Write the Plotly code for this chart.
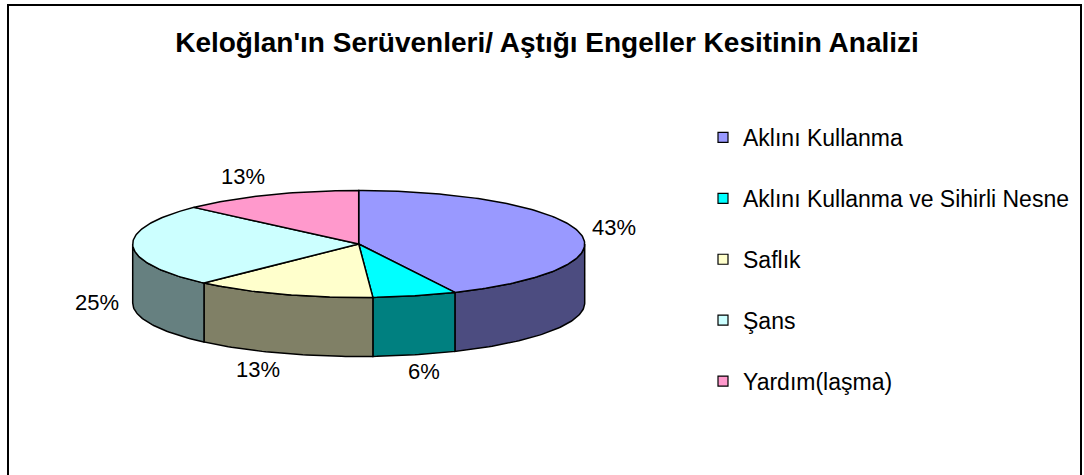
import numpy as np
import plotly.graph_objects as go

# ---- data ----
categories = ["Aklını Kullanma", "Aklını Kullanma ve Sihirli Nesne", "Saflık", "Şans", "Yardım(laşma)"]
values = [43, 6, 13, 25, 13]
top_colors = ["#9999FF", "#00FFFF", "#FFFFCC", "#CCFFFF", "#FF99CC"]
side_colors = ["#4C4C80", "#008080", "#808066", "#668080", "#804C66"]
title_text = "Keloğlan'ın Serüvenleri/ Aştığı Engeller Kesitinin Analizi"

# ---- layout constants (pixel space) ----
W, H = 1084, 475
cx, cy = 358.7, 244.0
rx, ry = 226.0, 53.5
depth = 59.0
FONT = "Arial, Liberation Sans, sans-serif"


def pt(phi_deg, dy=0.0):
    p = np.radians(phi_deg)
    return cx + rx * np.sin(p), cy - ry * np.cos(p) + dy


def arc(a, b, dy=0.0):
    n = max(2, int(abs(b - a) / 1.0) + 2)
    ph = np.linspace(a, b, n)
    x, y = pt(ph, dy)
    return list(x), list(y)


fig = go.Figure()

total = float(sum(values))
angles = np.concatenate([[0.0], np.cumsum(values) / total * 360.0])

# sides (front half only: 90..270 degrees clockwise from top)
for i in range(len(values)):
    a, b = angles[i], angles[i + 1]
    s, e = max(a, 90.0), min(b, 270.0)
    if e <= s:
        continue
    tx, ty = arc(s, e)
    bx, by = arc(e, s, depth)
    fig.add_trace(go.Scatter(
        x=tx + bx + [tx[0]], y=ty + by + [ty[0]],
        mode="lines", fill="toself", fillcolor=side_colors[i],
        line=dict(color="black", width=1.5), showlegend=False, hoverinfo="skip"))

# tops
for i in range(len(values)):
    a, b = angles[i], angles[i + 1]
    ax_, ay_ = arc(a, b)
    fig.add_trace(go.Scatter(
        x=[cx] + ax_ + [cx], y=[cy] + ay_ + [cy],
        mode="lines", fill="toself", fillcolor=top_colors[i],
        line=dict(color="black", width=1.5), showlegend=False, hoverinfo="skip"))

# labels
for i in range(len(values)):
    mid = np.radians((angles[i] + angles[i + 1]) / 2)
    sn, cs = np.sin(mid), np.cos(mid)
    lx = cx + (rx + 36) * sn + (-12 if -0.9 < sn < -0.2 else 0)
    ly = cy - (ry + 20) * cs + (depth - 3 if cs < 0 else 0)
    fig.add_annotation(x=lx, y=ly, text=f"{round(values[i] / total * 100)}%",
                       showarrow=False, font=dict(family=FONT, size=22, color="black"),
                       xanchor="center", yanchor="middle")

# legend entries
for i, c in enumerate(categories):
    fig.add_trace(go.Scatter(
        x=[None], y=[None], mode="markers", name=c, legendgroup=c,
        marker=dict(symbol="square", size=10, color=top_colors[i],
                    line=dict(color="black", width=1.2))))

fig.update_layout(
    width=W, height=H,
    margin=dict(l=0, r=0, t=0, b=0),
    paper_bgcolor="white", plot_bgcolor="white",
    xaxis=dict(range=[0, W], visible=False, fixedrange=True),
    yaxis=dict(range=[H, 0], visible=False, fixedrange=True),
    title=dict(text=f"<b>{title_text}</b>", x=547 / W, y=1 - 42 / H,
               xanchor="center", yanchor="middle",
               font=dict(family=FONT, size=28, color="black")),
    legend=dict(x=703 / W, y=1 - 116 / H, xanchor="left", yanchor="top",
                font=dict(family=FONT, size=23, color="black"),
                tracegroupgap=28, itemsizing="trace", bgcolor="rgba(0,0,0,0)"),
    showlegend=True,
    shapes=[dict(type="rect", xref="x", yref="y", x0=8, x1=1081, y0=5, y1=H + 20,
                 line=dict(color="black", width=2), layer="below")],
)

fig.write_html("out.html", config={"displayModeBar": False},
               post_script="document.body.style.margin='0';")
